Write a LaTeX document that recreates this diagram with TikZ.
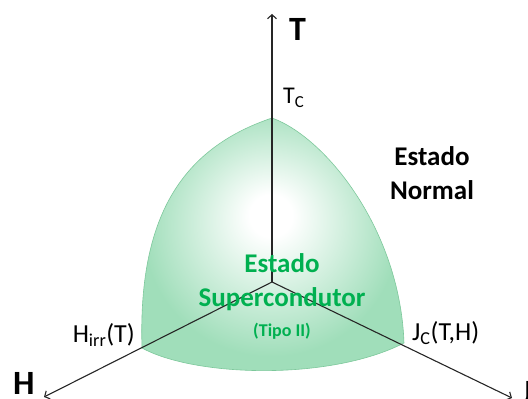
\documentclass[tikz,border=0pt]{standalone}
\usepackage{fontspec}
\setmainfont{Carlito}
\usepackage{tikz}
\usetikzlibrary{arrows.meta}
\definecolor{scgreen}{RGB}{0,176,80}
\definecolor{scfill}{RGB}{160,222,186}
\definecolor{scedge}{RGB}{125,200,155}
\pgfdeclareradialshading{scglow}{\pgfpoint{0bp}{7bp}}{color(0bp)=(white); color(4bp)=(white); color(24bp)=(scfill); color(50bp)=(scfill)}
\tikzset{
  axisline/.style={line width=1.1pt,black!85,-{Straight Barb[length=4pt,width=9pt]}},
  axislabel/.style={font=\fontsize{34}{40}\selectfont\bfseries,inner sep=0pt},
  critlabel/.style={font=\fontsize{26}{30}\selectfont,inner sep=0pt}
}

\begin{document}
\begin{tikzpicture}[x=1pt,y=1pt,
  statetext/.style={font=\fontsize{27}{34}\selectfont\bfseries,align=center,inner sep=0pt}
]
  \useasboundingbox (0,0) rectangle (528,399);
  \coordinate (O) at (272,117);
  \coordinate (tc) at (272,281);
  \coordinate (hirr) at (142,51);
  \coordinate (jc) at (404,56);
  \coordinate (ttip) at (272,385);
  \coordinate (htip) at (44,2);
  \coordinate (jtip) at (512,1);
  % superconducting region
  \path[shading=scglow,draw=scedge,line width=0.6pt]
    (tc) .. controls (180,250) and (138,180) .. (hirr)
    .. controls (195,22) and (330,18) .. (jc)
    .. controls (400,170) and (325,262) .. (tc) -- cycle;
  \draw[axisline] (O) -- (ttip);
  \draw[axisline] (O) -- (htip);
  \draw[axisline] (O) -- (jtip);
  \node[axislabel,anchor=base west] (tlab) at (289,358) {T};
  \node[axislabel,anchor=base west] (hlab) at (13,4) {H};
  \node[axislabel,anchor=base west] (jlab) at (521,-5) {J};
  \node[critlabel,font=\fontsize{24}{28}\selectfont,anchor=base west] (tclab) at (283,295) {T\textsubscript{C}};
  \node[critlabel,anchor=base east] (hirrlab) at (135,56) {H\textsubscript{irr}(T)};
  \node[critlabel,anchor=base west] (jclab) at (412,58) {J\textsubscript{C}(T,H)};
  \node[statetext] (normal) at (432,226) {Estado\\Normal};
  \node[statetext,text=scgreen] (super) at (282,117) {Estado\\Supercondutor};
  \node[font=\fontsize{18}{20}\selectfont\bfseries,text=scgreen,anchor=base,inner sep=0pt] (tipo) at (282,62) {(Tipo II)};
\end{tikzpicture}
\end{document}
